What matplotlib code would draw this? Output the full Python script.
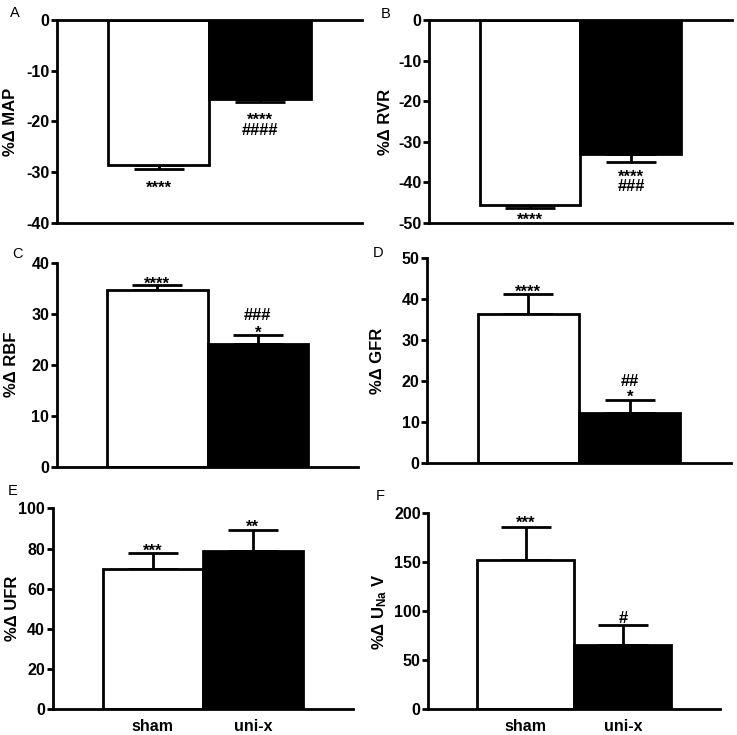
import matplotlib.pyplot as plt

plt.rcParams["font.family"] = ["Liberation Sans", "DejaVu Sans"]
plt.rcParams["axes.unicode_minus"] = False
plt.rcParams["mathtext.fontset"] = "custom"
plt.rcParams["mathtext.rm"] = "Liberation Sans:bold"
plt.rcParams["mathtext.it"] = "Liberation Sans:bold"
plt.rcParams["mathtext.bf"] = "Liberation Sans:bold"

groups = ["sham", "uni-x"]
bar_colors = ["white", "black"]

# panel values (mean, SEM)
map_mean = [-28.5, -15.5]
map_sem = [0.8, 0.7]
rvr_mean = [-45.6, -33.0]
rvr_sem = [0.7, 1.9]
rbf_mean = [34.7, 24.1]
rbf_sem = [1.0, 1.8]
gfr_mean = [36.4, 12.3]
gfr_sem = [4.8, 3.1]
ufr_mean = [70.0, 78.9]
ufr_sem = [7.7, 10.4]
una_mean = [152.0, 66.0]
una_sem = [34.0, 20.5]

# significance marks, nearest the error bar first
map_marks = [["****"], ["****", "####"]]
rvr_marks = [["****"], ["****", "###"]]
rbf_marks = [["****"], ["*", "###"]]
gfr_marks = [["****"], ["*", "##"]]
ufr_marks = [["***"], ["**"]]
una_marks = [["***"], ["#"]]

# layout of each panel: axes rect, ylabel x, panel letter (x, y),
# mark distances in px from the error cap for sham / uni-x
panels = [
    dict(letter="A", ylab="%Δ MAP", mean=map_mean, sem=map_sem,
         marks=map_marks, ylim=(-40, 0), ticks=range(-40, 1, 10),
         rect=[0.0773, 0.6966, 0.4138, 0.2762], labx=-0.152,
         lpos=(-0.154, 1.015), dist=[[14], [12.5, 27.5]]),
    dict(letter="B", ylab="%Δ RVR", mean=rvr_mean, sem=rvr_sem,
         marks=rvr_marks, ylim=(-50, 0), ticks=range(-50, 1, 10),
         rect=[0.5821, 0.6966, 0.4111, 0.2762], labx=-0.142,
         lpos=(-0.158, 1.01), dist=[[7.5], [10, 23.5]]),
    dict(letter="C", ylab="%Δ RBF", mean=rbf_mean, sem=rbf_sem,
         marks=rbf_marks, ylim=(0, 40), ticks=range(0, 41, 10),
         rect=[0.0773, 0.3650, 0.4085, 0.2776], labx=-0.152,
         lpos=(-0.148, 1.023), dist=[[5.5], [6, 21]]),
    dict(letter="D", ylab="%Δ GFR", mean=gfr_mean, sem=gfr_sem,
         marks=gfr_marks, ylim=(0, 50), ticks=range(0, 51, 10),
         rect=[0.5794, 0.3697, 0.4125, 0.2789], labx=-0.164,
         lpos=(-0.178, 1.006), dist=[[7], [7.5, 20]]),
    dict(letter="E", ylab="%Δ UFR", mean=ufr_mean, sem=ufr_sem,
         marks=ufr_marks, ylim=(0, 100), ticks=range(0, 101, 20),
         rect=[0.0715, 0.0350, 0.4075, 0.2734], labx=-0.135,
         lpos=(-0.149, 1.065), dist=[[7], [7.5]]),
    dict(letter="F", ylab=r"%Δ U$_{\mathrm{Na}}$ V", mean=una_mean,
         sem=una_sem, marks=una_marks, ylim=(0, 200), ticks=range(0, 201, 50),
         rect=[0.5811, 0.0350, 0.3960, 0.2666], labx=-0.165,
         lpos=(-0.18, 1.068), dist=[[9.5], [7.5]]),
]

MARK_FS = 12
EM = MARK_FS * 100 / 72      # em size in px
ASC = 0.716 * EM             # ascent of "lp" line in px
DESC = 0.21 * EM             # descent of "lp" line in px


def glyph_mid(txt):
    # visual centre of the glyphs above the baseline, in px
    return (0.58 if "*" in txt else 0.35) * EM


fig = plt.figure(figsize=(7.37, 7.35), dpi=100)

for p in panels:
    ax = fig.add_axes(p["rect"])
    x = [0, 1]
    means, sems = p["mean"], p["sem"]
    ax.bar(x, means, width=1.0, color=bar_colors, edgecolor="black",
           linewidth=2, zorder=2)
    negative = means[0] < 0
    if negative:
        yerr = [sems, [0, 0]]
    else:
        yerr = [[0, 0], sems]
    ax.errorbar(x, means, yerr=yerr, fmt="none", ecolor="black",
                elinewidth=2, capsize=18, capthick=2, zorder=1)

    sign = -1 if negative else 1
    for xi, m, s, mk, ds in zip(x, means, sems, p["marks"], p["dist"]):
        end = m + sign * s
        # wanted glyph centres (px, up positive), listed from top to bottom
        lines = [(t, sign * d) for t, d in zip(mk, ds)]
        if not negative:
            lines = lines[::-1]
        bases = [c - glyph_mid(t) for t, c in lines]
        ls = 1.0
        if len(bases) > 1:
            ls = (bases[0] - bases[1] - DESC) / ASC
        top = bases[0] + ASC
        ax.annotate("\n".join(t for t, _ in lines), (xi, end),
                    xytext=(0, top * 72 / 100), textcoords="offset points",
                    ha="center", va="top", linespacing=ls,
                    multialignment="center", fontsize=MARK_FS,
                    fontweight="bold", annotation_clip=False)

    ax.set_xlim(-1, 2)
    ax.set_ylim(*p["ylim"])
    ax.set_yticks(list(p["ticks"]))
    ax.spines["right"].set_visible(False)
    if not negative:
        ax.spines["top"].set_visible(False)
    for sp in ax.spines.values():
        sp.set_linewidth(2)
    ax.tick_params(axis="y", width=2, length=4, labelsize=11.5, pad=1.5)
    for lbl in ax.get_yticklabels():
        lbl.set_fontweight("bold")
    if p["letter"] in ("E", "F"):
        ax.set_xticks(x)
        ax.set_xticklabels(groups, fontsize=11.5, fontweight="bold")
        ax.tick_params(axis="x", length=0, pad=7)
    else:
        ax.set_xticks([])
    ax.set_ylabel(p["ylab"], fontsize=12, fontweight="bold", va="center")
    ax.yaxis.set_label_coords(p["labx"], 0.5)
    ax.text(*p["lpos"], p["letter"], transform=ax.transAxes, fontsize=10.5,
            va="baseline", ha="left")

fig.savefig("out.png", dpi=100)
